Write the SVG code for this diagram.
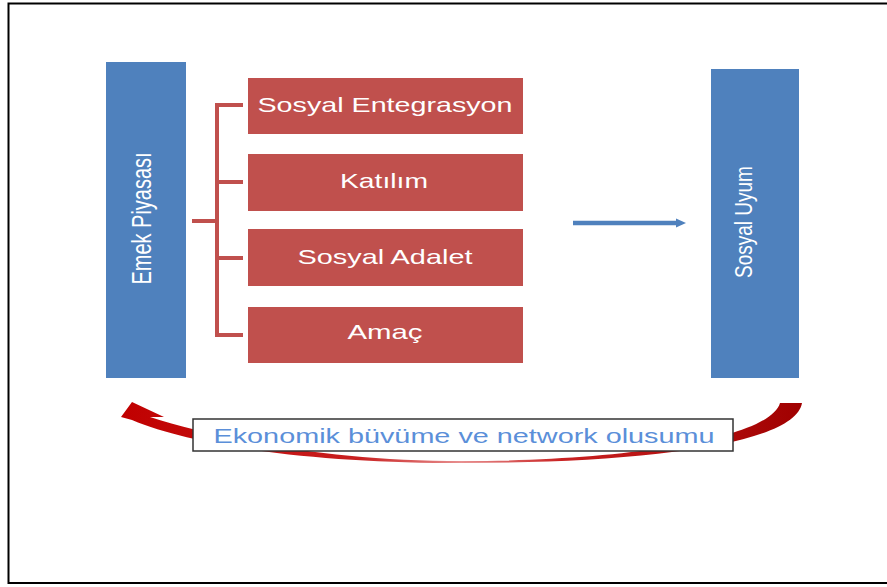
<svg xmlns="http://www.w3.org/2000/svg" width="887" height="587" viewBox="0 0 887 587">
<style>
.blue{fill:#4f81bd}
.red{fill:#c0504d}
.wt{fill:#ffffff;font-family:"Liberation Sans",Arial,sans-serif;font-size:21px;text-anchor:middle}
.vt{fill:#ffffff;font-family:"Liberation Sans",Arial,sans-serif;font-size:20px;text-anchor:middle}
.br{fill:none;stroke:#c0504d;stroke-width:4}
</style>
<defs>
<marker id="ah" markerWidth="10" markerHeight="10" refX="1" refY="5" orient="auto" markerUnits="userSpaceOnUse">
<path d="M0,0.5 L10,5 L0,9.5 Z" fill="#4f81bd"/>
</marker>
<linearGradient id="cg" x1="0" y1="0" x2="1" y2="0">
<stop offset="0" stop-color="#c00000"/>
<stop offset="0.35" stop-color="#c82020"/>
<stop offset="0.5" stop-color="#e89090"/>
<stop offset="0.65" stop-color="#c82020"/>
<stop offset="1" stop-color="#a00000"/>
</linearGradient>
</defs>
<rect width="887" height="587" fill="#ffffff"/>
<path d="M 890 3.5 H 8.5 V 583 H 890" fill="none" stroke="#000" stroke-width="2"/>

<g id="connectors">
<path class="br" d="M 192 221 H 217 M 243 105 H 217 V 335 H 243 M 217 182 H 243 M 217 258 H 243"/>
<line x1="573" y1="223" x2="677" y2="223" stroke="#4f81bd" stroke-width="4.5" marker-end="url(#ah)"/>
<g id="cycle">
<path d="M 802 403 C 795 445 640 463 463 463 C 320 463 200 448 132 420 L 121 417 L 132 402 L 164 417 L 150 417 C 210 436 320 461 463 461 C 630 461 770 438 780 403 Z" fill="url(#cg)"/>
</g>
</g>

<g id="emek">
<rect class="blue" x="106" y="62" width="80" height="316"/>
<text class="vt" transform="translate(151,218.5) scale(1.37,1) rotate(-90)">Emek Piyasası</text>
</g>
<g id="uyum">
<rect class="blue" x="711" y="69" width="88" height="309"/>
<text class="vt" style="font-size:19px" transform="translate(752,222) scale(1.3,1) rotate(-90)">Sosyal Uyum</text>
</g>

<g id="n1">
<rect class="red" x="248" y="78" width="275" height="56"/>
<text class="wt" x="385" y="112" textLength="255" lengthAdjust="spacingAndGlyphs">Sosyal Entegrasyon</text>
</g>
<g id="n2">
<rect class="red" x="248" y="154" width="275" height="57"/>
<text class="wt" x="384" y="188" textLength="88" lengthAdjust="spacingAndGlyphs">Katılım</text>
</g>
<g id="n3">
<rect class="red" x="248" y="229" width="275" height="57"/>
<text class="wt" x="385" y="264" textLength="175" lengthAdjust="spacingAndGlyphs">Sosyal Adalet</text>
</g>
<g id="n4">
<rect class="red" x="248" y="307" width="275" height="56"/>
<text class="wt" x="385" y="339" textLength="75" lengthAdjust="spacingAndGlyphs">Amaç</text>
</g>

<g id="label">
<rect x="193" y="419" width="540" height="32" fill="#ffffff" stroke="#333" stroke-width="1.5"/>
<text x="464" y="443" fill="#5b8fd9" font-family="'Liberation Sans',Arial,sans-serif" font-size="21" text-anchor="middle" textLength="501" lengthAdjust="spacingAndGlyphs">Ekonomik büvüme ve network olusumu</text>
</g>
</svg>
